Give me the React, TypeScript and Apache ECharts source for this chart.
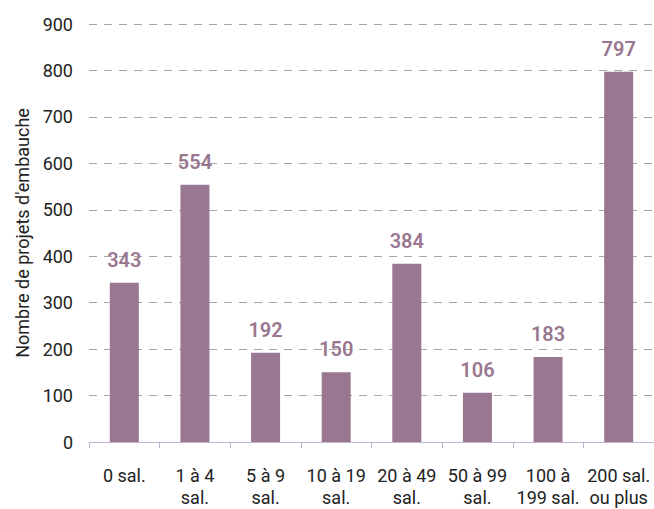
import React, { useEffect, useRef } from "react";
import * as echarts from "echarts";

const categories = [
  "0 sal.",
  "1 à 4\nsal.",
  "5 à 9\nsal.",
  "10 à 19\nsal.",
  "20 à 49\nsal.",
  "50 à 99\nsal.",
  "100 à\n199 sal.",
  "200 sal.\nou plus",
];
const values = [343, 554, 192, 150, 384, 106, 183, 797];
const yAxisName = "Nombre de projets d'embauche";

export default function App() {
  const ref = useRef<HTMLDivElement>(null);
  useEffect(() => {
    const chart = echarts.init(ref.current!, null, { renderer: "svg" });
    chart.setOption({
      animation: false,
      textStyle: { fontFamily: "Roboto, Liberation Sans, Arial, sans-serif" },
      grid: { left: 89, right: 0, top: 24, bottom: 67, containLabel: false },
      xAxis: {
        type: "category",
        data: categories,
        axisLine: { lineStyle: { color: "#bdb5d3", width: 1 } },
        axisTick: { show: true, length: 6, lineStyle: { color: "#bdb5d3" } },
        axisLabel: {
          color: "#222",
          fontSize: 18,
          lineHeight: 22,
          margin: 22,
          interval: 0,
        },
      },
      yAxis: {
        type: "value",
        min: 0,
        max: 900,
        interval: 100,
        name: yAxisName,
        nameLocation: "middle",
        nameGap: 58,
        nameRotate: 90,
        nameTextStyle: { color: "#222", fontSize: 18 },
        axisLine: { show: false },
        axisTick: { show: false },
        axisLabel: { color: "#222", fontSize: 18, margin: 16 },
        splitLine: {
          lineStyle: { color: "#a6a6a6", type: [8, 7], width: 1 },
        },
      },
      series: [
        {
          type: "bar",
          data: values,
          barWidth: 29,
          itemStyle: { color: "#9a7790" },
          label: {
            show: true,
            position: "top",
            distance: 13,
            color: "#9a7790",
            fontSize: 20,
            fontWeight: 600,
          },
        },
      ],
    });
    return () => chart.dispose();
  }, []);
  return <div ref={ref} style={{ width: 654, height: 509, position: "absolute", left: 0, top: 0 }} />;
}
